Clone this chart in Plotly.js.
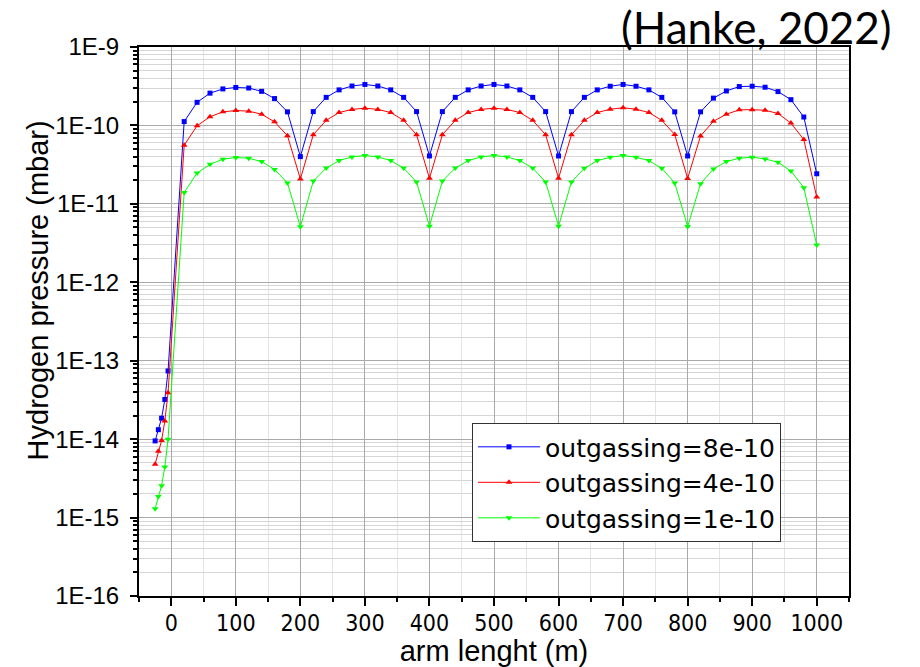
<!DOCTYPE html>
<html>
<head>
<meta charset="utf-8">
<script src="https://cdn.plot.ly/plotly-3.0.1.min.js"></script>
<style>html,body{margin:0;padding:0;background:#fff;}#chart{width:920px;height:667px;}</style>
</head>
<body>
<div id="chart"></div>
<script>
// ---- data ----
var armLength = [-25, -20, -15, -10, -5,
  20, 40, 60, 80, 100, 120, 140, 160, 180, 200,
  220, 240, 260, 280, 300, 320, 340, 360, 380, 400,
  420, 440, 460, 480, 500, 520, 540, 560, 580, 600,
  620, 640, 660, 680, 700, 720, 740, 760, 780, 800,
  820, 840, 860, 880, 900, 920, 940, 960, 980, 1000];

var p8e10 = [9.5e-15, 1.32e-14, 1.85e-14, 3.2e-14, 7.4e-14,
  1.12e-10, 1.97e-10, 2.58e-10, 2.92e-10, 3.05e-10, 3.0e-10, 2.72e-10, 2.2e-10, 1.49e-10, 4.0e-11,
  1.5e-10, 2.28e-10, 2.84e-10, 3.18e-10, 3.33e-10, 3.18e-10, 2.84e-10, 2.28e-10, 1.5e-10, 4.08e-11,
  1.5e-10, 2.28e-10, 2.84e-10, 3.18e-10, 3.33e-10, 3.18e-10, 2.84e-10, 2.28e-10, 1.5e-10, 4.08e-11,
  1.5e-10, 2.28e-10, 2.84e-10, 3.16e-10, 3.33e-10, 3.16e-10, 2.84e-10, 2.28e-10, 1.49e-10, 4.08e-11,
  1.49e-10, 2.23e-10, 2.75e-10, 3.13e-10, 3.16e-10, 3.07e-10, 2.7e-10, 2.13e-10, 1.28e-10, 2.42e-11];

var p4e10 = [4.8e-15, 7.0e-15, 9.6e-15, 1.7e-14, 3.9e-14,
  5.6e-11, 9.9e-11, 1.29e-10, 1.49e-10, 1.55e-10, 1.52e-10, 1.39e-10, 1.11e-10, 7.4e-11, 2.07e-11,
  7.6e-11, 1.16e-10, 1.46e-10, 1.6e-10, 1.66e-10, 1.6e-10, 1.46e-10, 1.16e-10, 7.6e-11, 2.12e-11,
  7.6e-11, 1.16e-10, 1.46e-10, 1.6e-10, 1.66e-10, 1.6e-10, 1.46e-10, 1.16e-10, 7.6e-11, 2.12e-11,
  7.6e-11, 1.16e-10, 1.46e-10, 1.61e-10, 1.68e-10, 1.61e-10, 1.46e-10, 1.16e-10, 7.65e-11, 2.11e-11,
  7.35e-11, 1.13e-10, 1.39e-10, 1.58e-10, 1.59e-10, 1.56e-10, 1.42e-10, 1.07e-10, 6.6e-11, 1.22e-11];

var p1e10 = [1.3e-15, 1.85e-15, 2.55e-15, 4.4e-15, 1.0e-14,
  1.4e-11, 2.47e-11, 3.19e-11, 3.71e-11, 3.9e-11, 3.82e-11, 3.46e-11, 2.75e-11, 1.85e-11, 5.1e-12,
  1.95e-11, 2.86e-11, 3.56e-11, 3.97e-11, 4.13e-11, 3.97e-11, 3.56e-11, 2.86e-11, 1.9e-11, 5.2e-12,
  1.95e-11, 2.86e-11, 3.56e-11, 3.97e-11, 4.13e-11, 3.97e-11, 3.56e-11, 2.86e-11, 1.9e-11, 5.2e-12,
  1.9e-11, 2.84e-11, 3.56e-11, 3.93e-11, 4.13e-11, 3.93e-11, 3.56e-11, 2.84e-11, 1.85e-11, 5.14e-12,
  1.81e-11, 2.78e-11, 3.46e-11, 3.82e-11, 3.93e-11, 3.74e-11, 3.39e-11, 2.62e-11, 1.61e-11, 2.98e-12];

var seriesNames = ['outgassing=8e-10', 'outgassing=4e-10', 'outgassing=1e-10'];
var yTickVals = [1e-16, 1e-15, 1e-14, 1e-13, 1e-12, 1e-11, 1e-10, 1e-9];
var yTickText = ['1E-16', '1E-15', '1E-14', '1E-13', '1E-12', '1E-11', '1E-10', '1E-9'];
var xTickVals = [0, 100, 200, 300, 400, 500, 600, 700, 800, 900, 1000];
var xTickText = ['0', '100', '200', '300', '400', '500', '600', '700', '800', '900', '1000'];

// ---- chart ----
var sans = 'Liberation Sans, Arial, sans-serif';
var wide = 'DejaVu Sans, Liberation Sans, sans-serif';
var narrow = 'Liberation Sans Narrow, DejaVu Sans Condensed, Liberation Sans, sans-serif';

var traces = [
  {x: armLength, y: p8e10, name: seriesNames[0], type: 'scatter', mode: 'lines+markers',
   line: {color: '#0000ff', width: 1}, marker: {symbol: 'square', size: 5, color: '#0000ff'}},
  {x: armLength, y: p4e10, name: seriesNames[1], type: 'scatter', mode: 'lines+markers',
   line: {color: '#ff0000', width: 1}, marker: {symbol: 'triangle-up', size: 6, color: '#ff0000'}},
  {x: armLength, y: p1e10, name: seriesNames[2], type: 'scatter', mode: 'lines+markers',
   line: {color: '#00ff00', width: 1}, marker: {symbol: 'triangle-down', size: 6, color: '#00ff00'}}
];

var layout = {
  width: 920, height: 667,
  margin: {l: 139, r: 71, t: 47, b: 71, pad: 0},
  paper_bgcolor: '#ffffff', plot_bgcolor: '#ffffff',
  showlegend: true,
  font: {family: sans, color: '#000'},
  xaxis: {
    range: [-50, 1050],
    tickmode: 'array', tickvals: xTickVals, ticktext: xTickText,
    tickfont: {family: narrow, size: 23, color: '#000'},
    ticks: 'outside', ticklen: 8, tickwidth: 2, tickcolor: '#000',
    ticklabelstandoff: -3,
    showline: true, linewidth: 2, linecolor: '#000', mirror: true,
    showgrid: true, gridcolor: '#a9a9a9', gridwidth: 1,
    zeroline: false, automargin: false,
    minor: {tickmode: 'linear', tick0: 0, dtick: 50, ticks: 'outside', ticklen: 4, tickwidth: 2, tickcolor: '#000',
            showgrid: true, gridcolor: '#e4e4e4', gridwidth: 1},
    title: {text: 'arm lenght (m)', font: {family: sans, size: 29, color: '#000'}, standoff: 12}
  },
  yaxis: {
    type: 'log', range: [-16, -9],
    tickmode: 'array', tickvals: yTickVals, ticktext: yTickText,
    tickfont: {family: sans, size: 24, color: '#000'},
    ticks: 'outside', ticklen: 7, tickwidth: 2, tickcolor: '#000',
    ticklabelstandoff: 6,
    showline: true, linewidth: 2, linecolor: '#000', mirror: true,
    showgrid: true, gridcolor: '#a9a9a9', gridwidth: 1,
    zeroline: false, automargin: false,
    minor: {dtick: 'D1', ticks: 'outside', ticklen: 4, tickwidth: 2, tickcolor: '#000',
            showgrid: true, gridcolor: '#d6d6d6', gridwidth: 1}
  },
  legend: {
    x: 0.469, y: 0.315, xanchor: 'left', yanchor: 'top',
    bgcolor: '#ffffff', bordercolor: '#333333', borderwidth: 1,
    font: {family: wide, size: 25, color: '#000'},
    itemwidth: 62, tracegroupgap: 0
  },
  annotations: [
    {text: 'Hydrogen pressure (mbar)', xref: 'paper', yref: 'paper', x: -0.142, y: 0.557,
     xanchor: 'center', yanchor: 'middle', textangle: -90, showarrow: false,
     font: {family: sans, size: 29, color: '#000'}},
    {text: '(Hanke, 2022)', xref: 'paper', yref: 'paper', x: 1.063, y: 1.036,
     xanchor: 'right', yanchor: 'middle', showarrow: false,
     font: {family: 'Lato, Open Sans, sans-serif', size: 44, color: '#000'}}
  ]
};

Plotly.newPlot('chart', traces, layout, {displayModeBar: false, staticPlot: true});
</script>
</body>
</html>
